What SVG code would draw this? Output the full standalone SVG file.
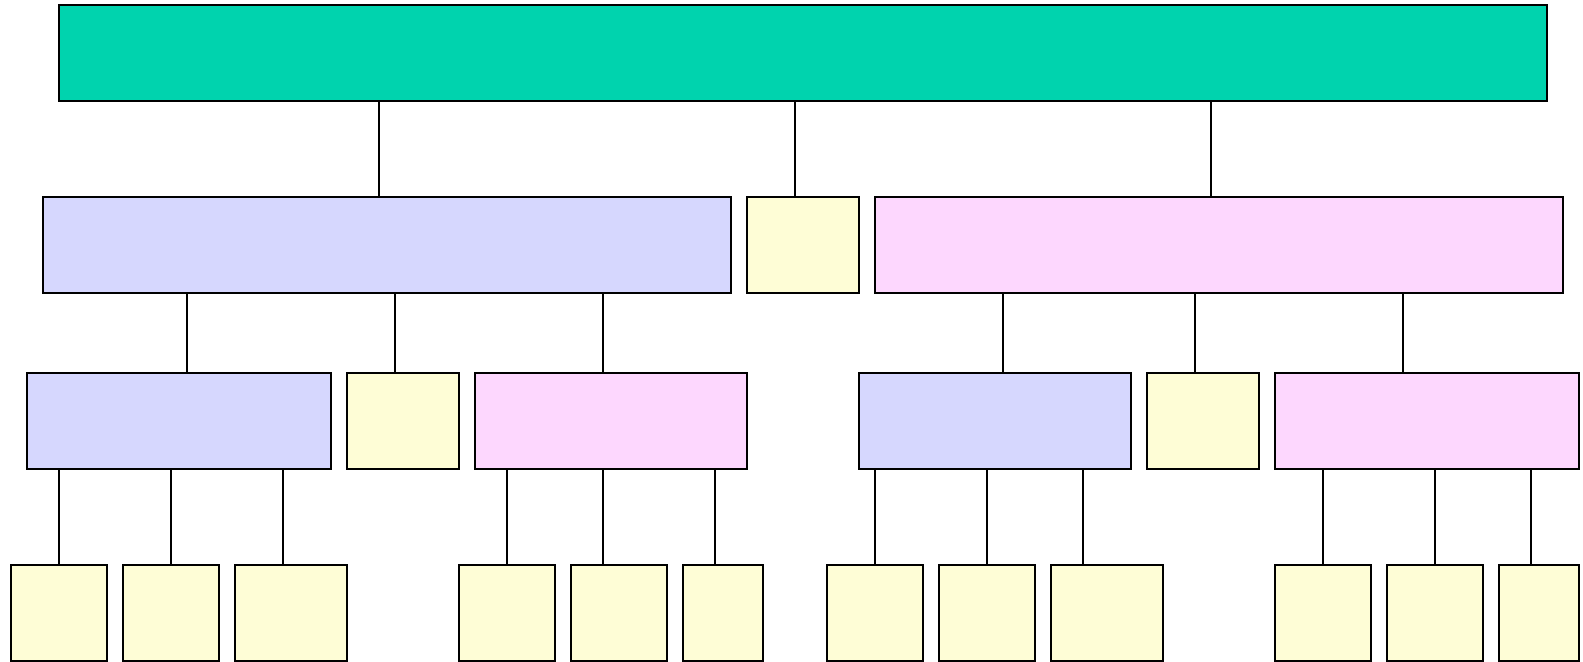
<svg xmlns="http://www.w3.org/2000/svg" width="1583" height="662" viewBox="0 0 1583 662">
<style>
rect{stroke:#000;stroke-width:2}
.t{fill:#00D3AE}.b{fill:#D6D7FE}.y{fill:#FEFDD6}.p{fill:#FDD7FE}
.c line{stroke:#000;stroke-width:2}
</style>
<rect width="1583" height="662" fill="#fff" style="stroke:none"/>
<g class="c" id="connectors">
<line x1="379" y1="101" x2="379" y2="197"/>
<line x1="795" y1="101" x2="795" y2="197"/>
<line x1="1211" y1="101" x2="1211" y2="197"/>
<line x1="187" y1="293" x2="187" y2="373"/>
<line x1="395" y1="293" x2="395" y2="373"/>
<line x1="603" y1="293" x2="603" y2="373"/>
<line x1="1003" y1="293" x2="1003" y2="373"/>
<line x1="1195" y1="293" x2="1195" y2="373"/>
<line x1="1403" y1="293" x2="1403" y2="373"/>
<line x1="59" y1="469" x2="59" y2="565"/>
<line x1="171" y1="469" x2="171" y2="565"/>
<line x1="283" y1="469" x2="283" y2="565"/>
<line x1="507" y1="469" x2="507" y2="565"/>
<line x1="603" y1="469" x2="603" y2="565"/>
<line x1="715" y1="469" x2="715" y2="565"/>
<line x1="875" y1="469" x2="875" y2="565"/>
<line x1="987" y1="469" x2="987" y2="565"/>
<line x1="1083" y1="469" x2="1083" y2="565"/>
<line x1="1323" y1="469" x2="1323" y2="565"/>
<line x1="1435" y1="469" x2="1435" y2="565"/>
<line x1="1531" y1="469" x2="1531" y2="565"/>
</g>
<g id="root"><rect class="t" x="59" y="5" width="1488" height="96"/></g>
<g id="n1"><rect class="b" x="43" y="197" width="688" height="96"/></g>
<g id="n2"><rect class="y" x="747" y="197" width="112" height="96"/></g>
<g id="n3"><rect class="p" x="875" y="197" width="688" height="96"/></g>
<g id="n11"><rect class="b" x="27" y="373" width="304" height="96"/></g>
<g id="n12"><rect class="y" x="347" y="373" width="112" height="96"/></g>
<g id="n13"><rect class="p" x="475" y="373" width="272" height="96"/></g>
<g id="n31"><rect class="b" x="859" y="373" width="272" height="96"/></g>
<g id="n32"><rect class="y" x="1147" y="373" width="112" height="96"/></g>
<g id="n33"><rect class="p" x="1275" y="373" width="304" height="96"/></g>
<g id="l1"><rect class="y" x="11" y="565" width="96" height="96"/></g>
<g id="l2"><rect class="y" x="123" y="565" width="96" height="96"/></g>
<g id="l3"><rect class="y" x="235" y="565" width="112" height="96"/></g>
<g id="l4"><rect class="y" x="459" y="565" width="96" height="96"/></g>
<g id="l5"><rect class="y" x="571" y="565" width="96" height="96"/></g>
<g id="l6"><rect class="y" x="683" y="565" width="80" height="96"/></g>
<g id="l7"><rect class="y" x="827" y="565" width="96" height="96"/></g>
<g id="l8"><rect class="y" x="939" y="565" width="96" height="96"/></g>
<g id="l9"><rect class="y" x="1051" y="565" width="112" height="96"/></g>
<g id="l10"><rect class="y" x="1275" y="565" width="96" height="96"/></g>
<g id="l11"><rect class="y" x="1387" y="565" width="96" height="96"/></g>
<g id="l12"><rect class="y" x="1499" y="565" width="80" height="96"/></g>
</svg>
